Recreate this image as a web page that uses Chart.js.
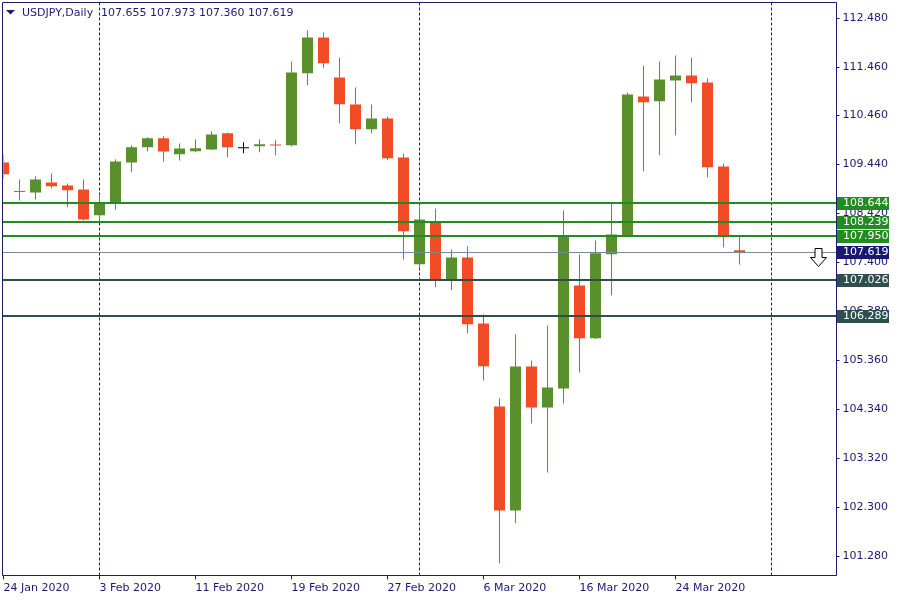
<!DOCTYPE html>
<html>
<head>
<meta charset="utf-8">
<title>USDJPY Daily</title>
<script src="https://cdn.jsdelivr.net/npm/chart.js@4.4.1/dist/chart.umd.min.js"></script>
<style>
  html, body { margin: 0; padding: 0; background: #ffffff; }
  canvas { display: block; }
</style>
</head>
<body>
<canvas id="fxChart" width="900" height="600"></canvas>
<script>
// ------------------- Data ------------------- //

const dates = [
  "24 Jan 2020", "27 Jan 2020", "28 Jan 2020", "29 Jan 2020", "30 Jan 2020", "31 Jan 2020",
  "3 Feb 2020", "4 Feb 2020", "5 Feb 2020", "6 Feb 2020", "7 Feb 2020",
  "10 Feb 2020", "11 Feb 2020", "12 Feb 2020", "13 Feb 2020", "14 Feb 2020",
  "17 Feb 2020", "18 Feb 2020", "19 Feb 2020", "20 Feb 2020", "21 Feb 2020",
  "24 Feb 2020", "25 Feb 2020", "26 Feb 2020", "27 Feb 2020", "28 Feb 2020",
  "2 Mar 2020", "3 Mar 2020", "4 Mar 2020", "5 Mar 2020", "6 Mar 2020",
  "9 Mar 2020", "10 Mar 2020", "11 Mar 2020", "12 Mar 2020", "13 Mar 2020",
  "16 Mar 2020", "17 Mar 2020", "18 Mar 2020", "19 Mar 2020", "20 Mar 2020",
  "23 Mar 2020", "24 Mar 2020", "25 Mar 2020", "26 Mar 2020", "27 Mar 2020",
  "30 Mar 2020"
];
// empty slots to the right of the last bar
const futureDates = ["31 Mar 2020", "1 Apr 2020", "2 Apr 2020", "3 Apr 2020", "6 Apr 2020", "7 Apr 2020"];

const opens = [
  109.482, 108.879, 108.858, 109.066, 109.004, 108.921,
  108.386, 108.644, 109.482, 109.801, 109.988,
  109.655, 109.718, 109.753, 110.092, 109.780,
  109.822, 109.853, 109.843, 111.341, 112.084,
  111.252, 110.690, 110.176, 110.398, 109.587,
  107.366, 108.254, 107.053, 107.505, 106.131,
  104.403, 102.239, 105.236, 104.383, 104.778,
  106.922, 105.825, 107.574, 107.948, 110.856,
  110.759, 111.189, 111.294, 111.148, 109.399,
  107.655
];
const highs = [
  109.649, 109.129, 109.197, 109.254, 109.045, 109.129,
  108.816, 109.551, 109.843, 110.009, 110.030,
  109.878, 109.968, 110.134, 110.107, 109.905,
  109.968, 109.947, 111.585, 112.230, 112.189,
  111.668, 111.044, 110.690, 110.440, 109.670,
  108.567, 108.519, 107.672, 107.734, 106.319,
  104.570, 105.902, 105.361, 106.090, 108.483,
  107.567, 107.859, 108.644, 110.940, 111.502,
  111.585, 111.710, 111.668, 111.231, 109.462,
  107.973
];
const lows = [
  109.149, 108.692, 108.712, 108.948, 108.552, 108.275,
  108.261, 108.504, 109.281, 109.712, 109.503,
  109.524, 109.697, 109.743, 109.593, 109.676,
  109.697, 109.634, 109.822, 111.092, 111.445,
  110.301, 109.863, 110.092, 109.530, 107.463,
  107.303, 106.887, 106.824, 105.929, 104.945,
  101.142, 101.974, 104.050, 103.030, 104.466,
  105.111, 105.808, 106.720, 107.932, 109.301,
  109.634, 110.051, 110.738, 109.177, 107.719,
  107.360
];
const closes = [
  109.239, 108.869, 109.129, 108.989, 108.906, 108.296,
  108.644, 109.503, 109.801, 109.988, 109.712,
  109.774, 109.780, 110.065, 109.801, 109.780,
  109.863, 109.836, 111.356, 112.084, 111.550,
  110.696, 110.176, 110.398, 109.572, 108.052,
  108.296, 107.053, 107.505, 106.117, 105.242,
  102.239, 105.236, 104.383, 104.799, 107.963,
  105.825, 107.594, 107.984, 110.898, 110.738,
  111.210, 111.294, 111.133, 109.385, 107.928,
  107.619
];

// price axis labels
const priceTicks = [112.48, 111.46, 110.46, 109.44, 108.42, 107.40, 106.38, 105.36, 104.34, 103.32, 102.30, 101.28];

// horizontal levels drawn on the chart
const supportLevels = [108.644, 108.239, 107.950];
const lowerLevels = [107.026, 106.289];
const bidPrice = 107.619;

// month separators (dashed)
const monthStarts = ["3 Feb 2020", "2 Mar 2020", "1 Apr 2020"];

// ------------------- Colours ------------------- //
const UP = "#5a8f2e";
const DOWN = "#f24c26";
const DOJI = "#000000";
const NAVY = "#1b1b72";
const LEVEL_GREEN = "#228b22";
const LEVEL_DARK = "#2f4f4f";
const BID_LINE = "#778899";
const BID_BOX = "#191970";
const FONT = "DejaVu Sans";

const allLabels = dates.concat(futureDates);
const LABEL_STEP = 6;

function candleColor(i) {
  if (closes[i] > opens[i]) return UP;
  if (closes[i] < opens[i]) return DOWN;
  return DOJI;
}
const colors = opens.map((o, i) => candleColor(i));

function showLabel(i) {
  return i % LABEL_STEP === 0 && i < dates.length;
}

function fmt(n) {
  return Number(n).toFixed(3);
}

// ------------------- Plugins ------------------- //

// dashed vertical separators behind the candles
const separatorPlugin = {
  id: "separators",
  beforeDatasetsDraw(chart) {
    const { ctx, chartArea, scales } = chart;
    ctx.save();
    ctx.strokeStyle = NAVY;
    ctx.lineWidth = 1;
    ctx.setLineDash([3, 2]);
    monthStarts.forEach((d) => {
      const idx = allLabels.indexOf(d);
      if (idx < 0) return;
      const x = Math.round(scales.x.getPixelForValue(idx) - 0.5) + 0.5;
      ctx.beginPath();
      ctx.moveTo(x, chartArea.top);
      ctx.lineTo(x, chartArea.bottom);
      ctx.stroke();
    });
    ctx.restore();
  },
};

// levels, price boxes, arrow, frame and title on top
const overlayPlugin = {
  id: "overlay",
  afterDraw(chart) {
    const { ctx, scales } = chart;
    const y = scales.y;
    const left = 2;
    const right = 836;

    ctx.save();

    // horizontal lines
    function hline(price, color, width) {
      const py = Math.round(y.getPixelForValue(price));
      ctx.fillStyle = color;
      ctx.fillRect(left, py - Math.floor(width / 2), right - left, width);
      return py;
    }
    function priceBox(price, py, color) {
      ctx.fillStyle = color;
      ctx.fillRect(837, py - 6, 52, 13);
      ctx.fillStyle = "#ffffff";
      ctx.font = "11px '" + FONT + "'";
      ctx.textAlign = "left";
      ctx.textBaseline = "middle";
      ctx.fillText(fmt(price), 843, py + 0.5);
    }

    const bidY = hline(bidPrice, BID_LINE, 1);
    supportLevels.forEach((p) => hline(p, LEVEL_GREEN, 2));
    lowerLevels.forEach((p) => hline(p, LEVEL_DARK, 2));

    supportLevels.forEach((p) => priceBox(p, Math.round(y.getPixelForValue(p)), LEVEL_GREEN));
    priceBox(bidPrice, bidY, BID_BOX);
    lowerLevels.forEach((p) => priceBox(p, Math.round(y.getPixelForValue(p)), LEVEL_DARK));

    // sell arrow in the empty area
    const ax = Math.round(scales.x.getPixelForValue(51)) - 1.5;
    const ay = Math.round(y.getPixelForValue(107.70)) + 0.5;
    ctx.beginPath();
    ctx.moveTo(ax - 3.5, ay);
    ctx.lineTo(ax + 3.5, ay);
    ctx.lineTo(ax + 3.5, ay + 9);
    ctx.lineTo(ax + 8, ay + 9);
    ctx.lineTo(ax, ay + 18);
    ctx.lineTo(ax - 8, ay + 9);
    ctx.lineTo(ax - 3.5, ay + 9);
    ctx.closePath();
    ctx.fillStyle = "#ffffff";
    ctx.fill();
    ctx.strokeStyle = "#000000";
    ctx.lineWidth = 1;
    ctx.stroke();

    // frame
    ctx.strokeStyle = NAVY;
    ctx.lineWidth = 1;
    ctx.beginPath();
    ctx.moveTo(2.5, 575.5);
    ctx.lineTo(2.5, 2.5);
    ctx.lineTo(836.5, 2.5);
    ctx.lineTo(836.5, 575.5);
    ctx.lineTo(2.5, 575.5);
    ctx.stroke();

    // title
    ctx.fillStyle = NAVY;
    ctx.beginPath();
    ctx.moveTo(6, 10);
    ctx.lineTo(15, 10);
    ctx.lineTo(10.5, 14.5);
    ctx.closePath();
    ctx.fill();
    ctx.font = "11px '" + FONT + "'";
    ctx.textAlign = "left";
    ctx.textBaseline = "middle";
    ctx.fillText("USDJPY,Daily", 22, 13);
    const last = dates.length - 1;
    ctx.fillText(
      [opens[last], highs[last], lows[last], closes[last]].map(fmt).join(" "),
      101, 13
    );

    ctx.restore();
  },
};

// ------------------- Chart ------------------- //
const ctx = document.getElementById("fxChart").getContext("2d");

new Chart(ctx, {
  type: "bar",
  data: {
    labels: allLabels,
    datasets: [
      {
        label: "Wicks",
        data: lows.map((l, i) => [l, highs[i]]),
        backgroundColor: colors,
        barThickness: 1,
        grouped: false,
        inflateAmount: 0,
        borderWidth: 0,
        order: 2,
      },
      {
        label: "Bodies",
        data: opens.map((o, i) => [o, closes[i]]),
        backgroundColor: colors,
        barThickness: 11,
        minBarLength: 1,
        grouped: false,
        inflateAmount: 0,
        borderWidth: 0,
        order: 1,
      },
    ],
  },
  options: {
    responsive: false,
    animation: false,
    layout: { padding: { left: 3.5, top: 2.5, right: 0, bottom: 0 } },
    plugins: {
      legend: { display: false },
      tooltip: { enabled: false },
    },
    scales: {
      x: {
        type: "category",
        offset: false,
        grid: {
          offset: false,
          drawOnChartArea: false,
          tickLength: 4,
          color: (c) => (showLabel(c.index) ? NAVY : "rgba(0,0,0,0)"),
        },
        border: { display: false },
        ticks: {
          autoSkip: false,
          maxRotation: 0,
          minRotation: 0,
          align: "start",
          padding: 2,
          color: NAVY,
          font: { family: FONT, size: 11 },
          callback: function (val, i) {
            return showLabel(i) ? allLabels[i] : "";
          },
        },
        afterFit: (s) => {
          s.height = 24.5;
          s.paddingLeft = 0;
          s.paddingRight = 0;
        },
      },
      y: {
        position: "right",
        min: 100.8845,
        max: 112.813,
        grid: {
          drawOnChartArea: false,
          tickLength: 4,
          color: NAVY,
        },
        border: { display: false },
        ticks: {
          padding: 3,
          color: NAVY,
          font: { family: FONT, size: 11 },
          callback: (v) => fmt(v),
        },
        afterBuildTicks: (s) => {
          s.ticks = priceTicks.map((v) => ({ value: v }));
        },
        afterFit: (s) => {
          s.width = 64.5;
          s.paddingTop = 0;
          s.paddingBottom = 0;
        },
      },
    },
  },
  plugins: [separatorPlugin, overlayPlugin],
});
</script>
</body>
</html>
